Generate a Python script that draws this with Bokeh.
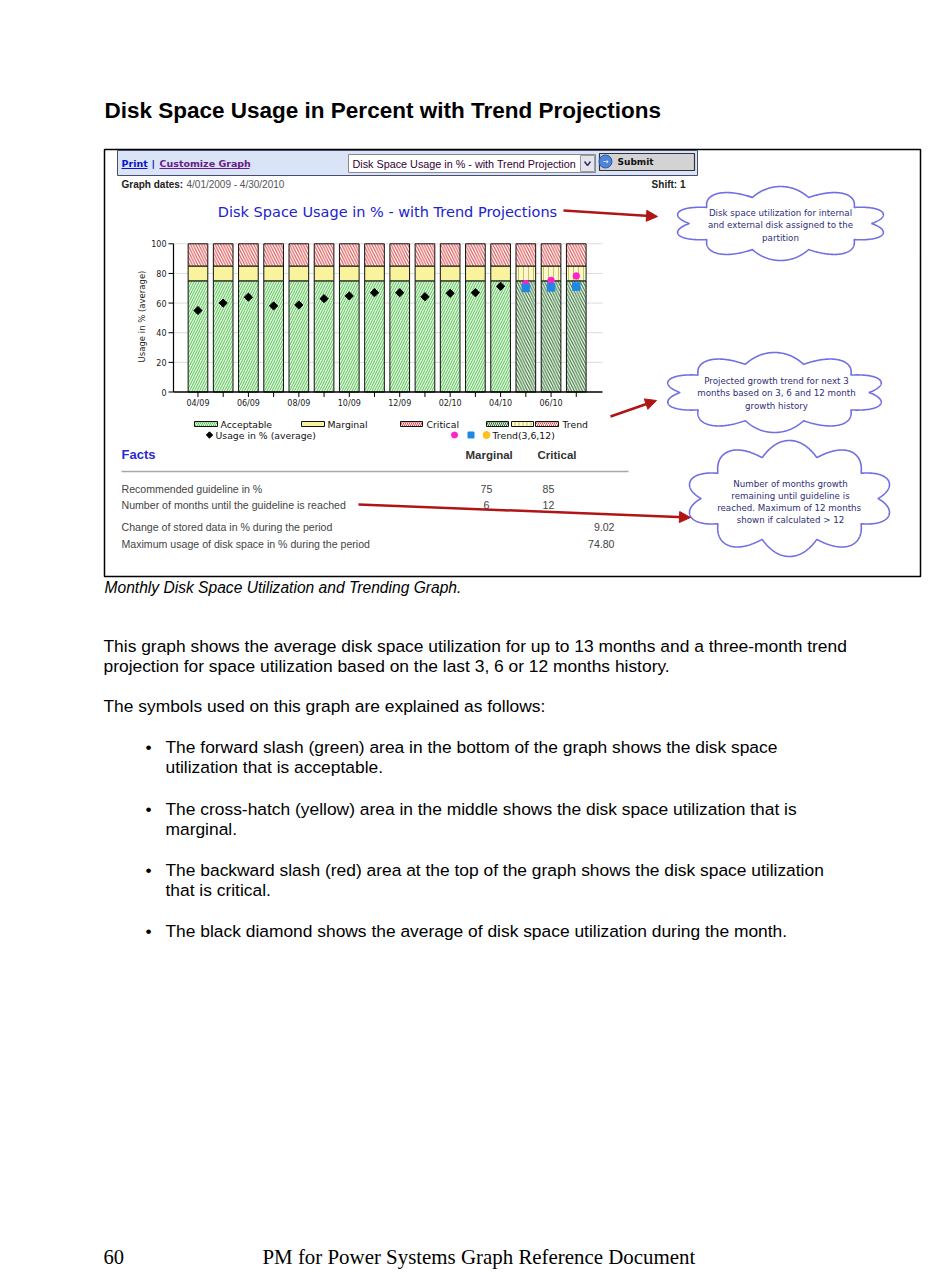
import numpy as np
from math import pi
from bokeh.plotting import figure
from bokeh.models import Range1d, Arrow, NormalHead
from bokeh.core.properties import value
from bokeh.embed import file_html
from bokeh.resources import INLINE

# ---------------- data ----------------
months = ["04/09", "05/09", "06/09", "07/09", "08/09", "09/09", "10/09", "11/09",
          "12/09", "01/10", "02/10", "03/10", "04/10", "05/10", "06/10", "07/10"]
avg_usage = [55.0, 60.0, 64.0, 58.1, 58.7, 63.0, 64.8, 67.0, 67.0, 64.3, 66.6, 67.0, 71.3]
trend_3m = [73.1, 75.3, 78.3]
trend_6m = [70.2, 70.6, 71.1]
guideline_marginal = 75
guideline_critical = 85
usage_full = 100
y_ticks = [0, 20, 40, 60, 80, 100]
facts_labels = ["Recommended guideline in %", "Number of months until the guideline is reached"]
facts_marginal = ["75", "6"]
facts_critical = ["85", "12"]
stats_labels = ["Change of stored data in % during the period",
                "Maximum usage of disk space in % during the period"]
stats_values = ["9.02", "74.80"]

# ---------------- page figure ----------------
W, H = 934, 1274
p = figure(width=W, height=H, x_range=Range1d(0, W), y_range=Range1d(H, 0),
           output_backend="svg", toolbar_location=None, min_border=0,
           x_axis_location=None, y_axis_location=None)
p.grid.visible = False
p.outline_line_color = None
p.background_fill_color = "white"
p.border_fill_color = "white"

SANS = "Liberation Sans"
DJ = "DejaVu Sans"


def T(x, y, s, size, color="#000000", font=SANS, style="normal", align="left",
      baseline="middle", angle=0.0):
    p.text(x=[x], y=[y], text=[s], text_font=value(font), text_font_size=f"{size}px",
           text_font_style=style, text_color=color, text_align=align,
           text_baseline=baseline, angle=angle)


def cloud(cx, cy, rx, ry, k):
    t = np.linspace(0, 2 * np.pi, 900)
    b = np.abs(np.sin(k * t))
    xs = cx + np.cos(t) * (rx * 0.85 + rx * 0.15 * b)
    ys = cy + np.sin(t) * (ry * 0.74 + ry * 0.26 * b)
    return xs, ys


# heading
T(104, 110, "Disk Space Usage in Percent with Trend Projections", 22.5, style="bold")

# outer box
p.quad(left=104, right=920, top=149, bottom=576, fill_color=None, line_color="black", line_width=1.5)

# toolbar band
p.quad(left=117, right=697, top=150, bottom=175, fill_color="#d9e4f6", line_color="#4a4a70", line_width=1)
T(121, 162.5, "Print", 9.5, color="#0a14c8", font=DJ, style="bold")
p.segment(x0=121, x1=147, y0=168, y1=168, line_color="#0a14c8", line_width=1)
T(151, 162.5, "|", 9.5, color="#0a14c8", font=DJ, style="bold")
T(159, 162.5, "Customize Graph", 9.5, color="#6a1b8a", font=DJ, style="bold")
p.segment(x0=159, x1=249, y0=168, y1=168, line_color="#6a1b8a", line_width=1)
# dropdown
p.quad(left=348, right=595, top=154, bottom=172, fill_color="white", line_color="#8a8a8a", line_width=1)
T(352, 163, "Disk Space Usage in % - with Trend Projection", 10.8, color="#330033")
p.quad(left=580, right=594, top=155, bottom=171, fill_color="#e4e4ec", line_color="#9a9aaa", line_width=1)
p.line(x=[584, 587, 590], y=[161, 165, 161], line_color="#333366", line_width=1.5)
# submit
p.quad(left=599, right=694, top=153, bottom=170, fill_color="#d3d3d3", line_color="#333333", line_width=1.2)
p.circle(x=[605], y=[161], radius=6.5, fill_color="#4d86d6", line_color="#2a5aa8")
T(605, 161, "→", 7, color="white", font=DJ, align="center")
T(617, 161, "Submit", 9, color="#111111", font=DJ, style="bold")

# graph dates / shift
T(121, 184, "Graph dates:", 10, color="#222222", font=SANS, style="bold")
T(186, 184, "4/01/2009 - 4/30/2010", 10, color="#555555", font=SANS)
T(685, 184, "Shift: 1", 10, color="#222222", font=SANS, style="bold", align="right")

# chart title
T(387, 211, "Disk Space Usage in % - with Trend Projections", 14.5, color="#2222cc", font=DJ, align="center")

# ---------------- bar chart (own coordinate system) ----------------
X0, X1 = -0.97, 16.04
CX0, CX1 = 173.0, 602.0
CY0, CY1 = 391.5, 243.3
ch = p.subplot(x_source=Range1d(start=X0, end=X1), y_source=Range1d(start=0, end=usage_full),
               x_target=Range1d(start=CX0, end=CX1), y_target=Range1d(start=CY0, end=CY1))
px_x = (CX1 - CX0) / (X1 - X0)
px_y = (CY0 - CY1) / usage_full

n_h = len(avg_usage)
xh = list(range(n_h))
xt = list(range(n_h, n_h + len(trend_3m)))
xall = list(range(len(months)))

# grid
ch.segment(x0=X0, x1=X1, y0=y_ticks[1:], y1=y_ticks[1:], line_color="#dcdcdc", line_width=1)

bw = 0.78
lc = dict(line_color="#111111", line_width=1)
GREEN = dict(fill_color="#e4f8e0", hatch_pattern="/", hatch_color="#55c455", hatch_scale=5, hatch_weight=1)
YELLOW = dict(fill_color="#f8f39c")
RED = dict(fill_color="#fff6f6", hatch_pattern="\\", hatch_color="#d84545", hatch_scale=5.5, hatch_weight=1)
TGREEN = dict(fill_color="#e8f5e6", hatch_pattern="\\", hatch_color="#2f6a2f", hatch_scale=5.5, hatch_weight=1)
TYELLOW = dict(fill_color="#fbf9cc", hatch_pattern="|", hatch_color="#c9c45a", hatch_scale=5, hatch_weight=1)

ch.vbar(x=xh, width=bw, bottom=0, top=guideline_marginal, **GREEN, **lc)
ch.vbar(x=xh, width=bw, bottom=guideline_marginal, top=guideline_critical, **YELLOW, **lc)
ch.vbar(x=xh, width=bw, bottom=guideline_critical, top=usage_full, **RED, **lc)
ch.vbar(x=xt, width=bw, bottom=0, top=guideline_marginal, **TGREEN, **lc)
ch.vbar(x=xt, width=bw, bottom=guideline_marginal, top=guideline_critical, **TYELLOW, **lc)
ch.vbar(x=xt, width=bw, bottom=guideline_critical, top=usage_full, **RED, **lc)

ch.scatter(x=xh, y=avg_usage, marker="square", angle=pi / 4, size=5.8, color="black")
ch.scatter(x=xt, y=trend_3m, marker="circle", size=6.5, color="#ff22cc")
ch.scatter(x=xt, y=trend_6m, marker="square", size=7.5, color="#1e88e5")

# axes
ch.segment(x0=X0, x1=X0, y0=0, y1=usage_full, line_color="black", line_width=1.2)
ch.segment(x0=X0, x1=X1, y0=0, y1=0, line_color="black", line_width=1.5)
ch.segment(x0=X0, x1=X0 - 5 / px_x, y0=y_ticks, y1=y_ticks, line_color="black", line_width=1)
ch.segment(x0=xall, x1=xall, y0=0, y1=-5 / px_y, line_color="black", line_width=1)
ch.text(x=[X0] * len(y_ticks), y=y_ticks, text=[str(v) for v in y_ticks], x_offset=-7,
        text_align="right", text_baseline="middle", text_font=value(DJ), text_font_size="8px",
        text_color="#222222")
ch.text(x=xall[::2], y=[0] * len(xall[::2]), text=months[::2], y_offset=7,
        text_align="center", text_baseline="top", text_font=value(DJ), text_font_size="8px",
        text_color="#222222")
T(141, 316, "Usage in % (average)", 8.5, color="#222222", font=DJ, align="center", angle=pi / 2)

# legend
def sw(l, r, sty):
    p.quad(left=l, right=r, top=421, bottom=426, **sty, line_color="#111111", line_width=1)

sw(194, 217, dict(fill_color="#e4f8e0", hatch_pattern="/", hatch_color="#4fc24f", hatch_scale=4, hatch_weight=1))
T(220, 423.5, "Acceptable", 9.3, color="#111111", font=DJ)
sw(301, 324, YELLOW)
T(327, 423.5, "Marginal", 9.3, color="#111111", font=DJ)
sw(400, 422, dict(fill_color="#fff6f6", hatch_pattern="\\", hatch_color="#d84545", hatch_scale=4, hatch_weight=1))
T(426, 423.5, "Critical", 9.3, color="#111111", font=DJ)
sw(486, 508, dict(fill_color="#e8f5e6", hatch_pattern="\\", hatch_color="#2f6a2f", hatch_scale=4, hatch_weight=1))
sw(511, 533, dict(fill_color="#fbf9cc", hatch_pattern="|", hatch_color="#c9c45a", hatch_scale=4, hatch_weight=1))
sw(535, 558, dict(fill_color="#fff6f6", hatch_pattern="/", hatch_color="#d84545", hatch_scale=4, hatch_weight=1))
T(562, 423.5, "Trend", 9.3, color="#111111", font=DJ)
p.scatter(x=[209], y=[434.5], marker="square", angle=pi / 4, size=4.5, color="black")
T(215, 434.5, "Usage in % (average)", 9.3, color="#111111", font=DJ)
p.scatter(x=[454], y=[434.5], marker="circle", size=6, color="#ff22cc")
p.scatter(x=[470.5], y=[434.5], marker="square", size=6, color="#1e88e5")
p.scatter(x=[486], y=[434.5], marker="circle", size=7, color="#ffc020")
T(492, 434.5, "Trend(3,6,12)", 9.3, color="#111111", font=DJ)

# facts
T(121, 454, "Facts", 13, color="#2a2ad0", style="bold")
T(465, 454, "Marginal", 11.5, color="#333333", style="bold")
T(537, 454, "Critical", 11.5, color="#333333", style="bold")
p.segment(x0=121, x1=628, y0=471, y1=471, line_color="#a8a8a8", line_width=1.5)
for i, (lab, m, c) in enumerate(zip(facts_labels, facts_marginal, facts_critical)):
    yy = 488 + 16 * i
    T(121, yy, lab, 10.6, color="#444444")
    T(486, yy, m, 10.6, color="#444444", align="center")
    T(548, yy, c, 10.6, color="#444444", align="center")
for i, (lab, v) in enumerate(zip(stats_labels, stats_values)):
    yy = 526 + 17 * i
    T(121, yy, lab, 10.6, color="#444444")
    T(614, yy, v, 10.6, color="#444444", align="right")

# clouds
CLOUD_LINE = "#7070e4"
for (cx, cy, rx, ry, k) in [(780, 223, 107, 37, 5), (774, 392, 111, 40, 5), (789, 498, 104, 58, 5)]:
    xs, ys = cloud(cx, cy, rx, ry, k)
    p.patch(x=xs, y=ys, fill_color="white", line_color=CLOUD_LINE, line_width=1.6)

CT = "#2e2e78"
for i, s in enumerate(["Disk space utilization for internal", "and external disk assigned to the", "partition"]):
    T(780, 212 + 12.5 * i, s, 8.7, color=CT, font=DJ, align="center")
for i, s in enumerate(["Projected growth trend for next 3", "months based on 3, 6 and 12 month", "growth history"]):
    T(776, 380 + 12.5 * i, s, 8.7, color=CT, font=DJ, align="center")
for i, s in enumerate(["Number of months growth", "remaining until guideline is",
                       "reached.  Maximum of 12 months", "shown if calculated > 12"]):
    T(790, 483 + 12.3 * i, s, 8.7, color=CT, font=DJ, align="center")

# red arrows
AR = "#b01515"
for (xs_, ys_, xe, ye) in [(563, 210, 657, 216), (610, 416, 656, 400), (358, 504, 690, 517)]:
    p.add_layout(Arrow(end=NormalHead(size=11, fill_color=AR, line_color=AR),
                       x_start=xs_, y_start=ys_, x_end=xe, y_end=ye,
                       line_color=AR, line_width=2.5))

# caption and body text
T(104, 587, "Monthly Disk Space Utilization and Trending Graph.", 15.6, style="italic")
T(103, 645, "This graph shows the average disk space utilization for up to 13 months and a three-month trend", 17.4)
T(103, 665, "projection for space utilization based on the last 3, 6 or 12 months history.", 17.4)
T(103, 705, "The symbols used on this graph are explained as follows:", 17.4)
bullets = [
    (746, ["The forward slash (green) area in the bottom of the graph shows the disk space",
           "utilization that is acceptable."]),
    (808, ["The cross-hatch (yellow) area in the middle shows the disk space utilization that is",
           "marginal."]),
    (869, ["The backward slash (red) area at the top of the graph shows the disk space utilization",
           "that is critical."]),
    (930, ["The black diamond shows the average of disk space utilization during the month."]),
]
for y0, lines in bullets:
    T(145, y0, "•", 17.4)
    for j, s in enumerate(lines):
        T(165, y0 + 20.5 * j, s, 17.4)

# footer
T(103, 1256, "60", 20.5, font="Liberation Serif")
T(262, 1256, "PM for Power Systems Graph Reference Document", 20.9, font="Liberation Serif")

open("out.html", "w").write(file_html(p, INLINE))
